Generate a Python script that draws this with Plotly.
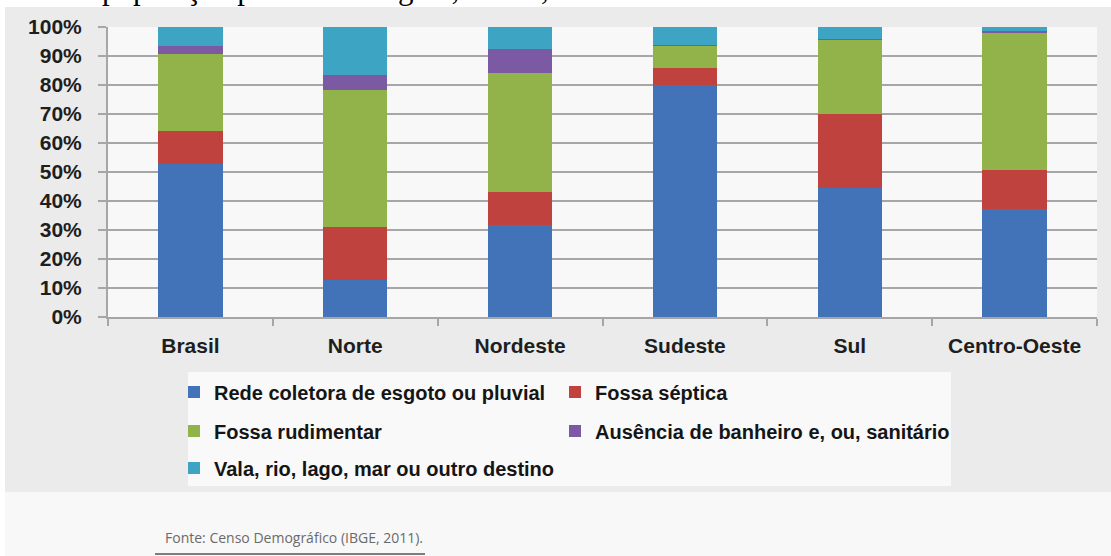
import plotly.graph_objects as go

# Share of households by sewage destination, per macro-region (percent)
categories = ["Brasil", "Norte", "Nordeste", "Sudeste", "Sul", "Centro-Oeste"]
rede_coletora = [52.8, 12.7, 31.7, 80.1, 44.6, 37.1]
fossa_septica = [11.5, 18.4, 11.3, 5.7, 25.4, 13.5]
fossa_rudimentar = [26.4, 47.2, 41.3, 7.7, 25.6, 47.6]
ausencia = [2.8, 5.0, 8.1, 0.3, 0.4, 0.5]
vala_rio = [6.5, 16.7, 7.6, 6.2, 4.0, 1.3]

series_names = [
    "Rede coletora de esgoto ou pluvial",
    "Fossa séptica",
    "Fossa rudimentar",
    "Ausência de banheiro e, ou, sanitário",
    "Vala, rio, lago, mar ou outro destino",
]
series_values = [rede_coletora, fossa_septica, fossa_rudimentar, ausencia, vala_rio]
series_colors = ["#4272b7", "#bf423f", "#92b349", "#7b5aa3", "#3da4c3"]
series_legend = ["legend", "legend", "legend2", "legend2", "legend3"]
series_entry_width = [336, 380, 336, 380, 380]

W, H = 1111, 556
L, R, T, B = 108, 14, 27, 239
PW, PH = W - L - R, H - T - B


def px_x(x):
    return (x - L) / PW


def px_y(y):
    return (H - B - y) / PH


fig = go.Figure()
for name, vals, color, lg, ew in zip(series_names, series_values, series_colors,
                                     series_legend, series_entry_width):
    fig.add_trace(go.Bar(
        x=categories, y=vals, name=name, legend=lg, legendwidth=ew,
        marker=dict(color=color, line=dict(width=0)),
    ))

legend_font = dict(family="Liberation Sans, Arial, sans-serif", size=20, color="#151515", weight="bold")


def legend_row(y_px):
    return dict(
        orientation="h", traceorder="normal",
        x=px_x(174), xanchor="left", y=px_y(y_px), yanchor="middle",
        entrywidth=336, entrywidthmode="pixels",
        bgcolor="rgba(0,0,0,0)", font=legend_font,
    )


grid = "#a6a6a6"
tick_font = dict(family="Liberation Sans, Arial, sans-serif", size=21, color="#1e1e1e", weight="bold")
fig.update_layout(
    width=W, height=H,
    margin=dict(l=L, r=R, t=T, b=B, autoexpand=False),
    paper_bgcolor="white",
    plot_bgcolor="rgba(0,0,0,0)",
    barmode="stack",
    bargap=0.61,
    showlegend=True,
    legend=legend_row(392),
    legend2=legend_row(431),
    legend3=legend_row(468),
    xaxis=dict(
        type="category", showgrid=False, showline=True, linecolor=grid, linewidth=2,
        ticks="outside", tickson="boundaries", ticklen=7, tickcolor=grid, tickwidth=1.5,
        tickfont=tick_font, ticklabelstandoff=9,
    ),
    yaxis=dict(
        range=[0, 100], dtick=10, ticksuffix="%", zeroline=False,
        showgrid=True, gridcolor=grid, gridwidth=2,
        showline=True, linecolor=grid, linewidth=2,
        ticks="outside", ticklen=8, tickcolor=grid, tickwidth=1.5,
        tickfont=tick_font, ticklabelstandoff=12,
    ),
    shapes=[
        # chart panel background
        dict(type="rect", xref="paper", yref="paper", layer="below",
             x0=px_x(5), x1=px_x(W + 2), y0=px_y(492), y1=px_y(7),
             fillcolor="#ebebeb", line=dict(width=0)),
        # lower page strip
        dict(type="rect", xref="paper", yref="paper", layer="below",
             x0=px_x(5), x1=px_x(W + 2), y0=px_y(H + 2), y1=px_y(492),
             fillcolor="#f8f8f8", line=dict(width=0)),
        # plot area
        dict(type="rect", xref="paper", yref="paper", layer="below",
             x0=0, x1=1, y0=0, y1=1, fillcolor="#f8f8f8", line=dict(width=0)),
        # legend box
        dict(type="rect", xref="paper", yref="paper", layer="below",
             x0=px_x(188), x1=px_x(951), y0=px_y(486), y1=px_y(372),
             fillcolor="#f9f9f9", line=dict(width=0)),
        # rule under the source note
        dict(type="line", xref="paper", yref="paper",
             x0=px_x(155), x1=px_x(425), y0=px_y(554), y1=px_y(554),
             line=dict(color="#555555", width=1.5)),
    ],
    annotations=[
        dict(text="população por macrorregião, Brasil, 2010.", xref="paper", yref="paper",
             x=px_x(100), y=px_y(8), xanchor="left", yanchor="bottom", showarrow=False,
             font=dict(family="Liberation Serif, Times New Roman, serif", size=31, color="black")),
        dict(text="Fonte: Censo Demográfico (IBGE, 2011).", xref="paper", yref="paper",
             x=px_x(163), y=px_y(537), xanchor="left", yanchor="middle", showarrow=False,
             font=dict(family="Open Sans, sans-serif", size=14, color="#6a6a6a")),
    ],
)

fig.write_html("out.html")
